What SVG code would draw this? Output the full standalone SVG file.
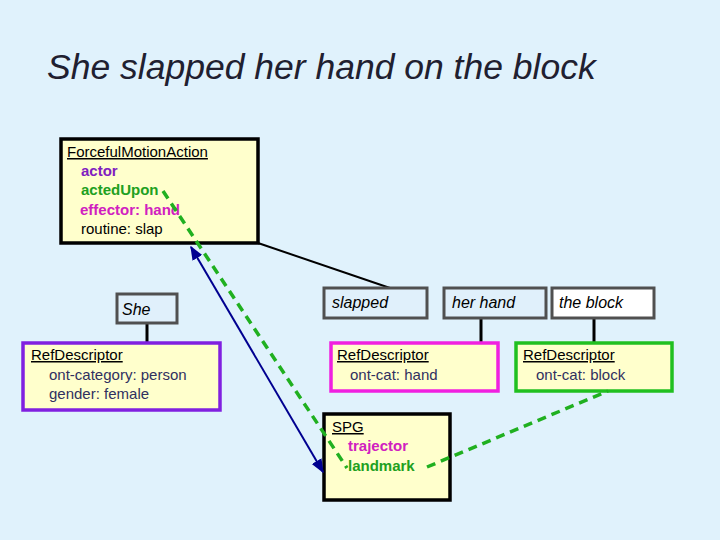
<svg xmlns="http://www.w3.org/2000/svg" width="720" height="540" viewBox="0 0 720 540">
<style>
text{font-family:"Liberation Sans",Arial,sans-serif;font-size:15px}
.yb{fill:#ffffcc;stroke-width:3.5}
.w{fill:#e0f0fb;stroke:#505050;stroke-width:3}
.it{font-style:italic;font-size:16px}
.h{text-decoration:underline;fill:#000}
.nv{fill:#303060}
.b{font-weight:bold}
</style>
<defs>
<marker id="a" viewBox="0 0 10 10" refX="9" refY="5" markerWidth="7" markerHeight="7" orient="auto-start-reverse"><path d="M0,1 L10,5 L0,9 z" fill="#000090"/></marker>
</defs>
<rect width="720" height="540" fill="#e0f2fc"/>
<text x="47" y="79" style="font-size:35.5px;font-style:italic" fill="#202030">She slapped her hand on the block</text>
<g id="connectors">
<line x1="258" y1="243" x2="390" y2="288" stroke="#000" stroke-width="2"/>
<line x1="147" y1="323" x2="147" y2="342" stroke="#000" stroke-width="3"/>
<line x1="481" y1="318" x2="481" y2="342" stroke="#000" stroke-width="3"/>
<line x1="594" y1="318" x2="594" y2="342" stroke="#000" stroke-width="3"/>
</g>
<g id="fma"><rect class="yb" x="61" y="139" width="197" height="104" stroke="#000"/>
<text x="67" y="157" class="h">ForcefulMotionAction</text>
<text x="81" y="176" fill="#8020c0" class="b">actor</text>
<text x="81" y="195" fill="#20a020" class="b">actedUpon</text>
<text x="80" y="215" fill="#d020c0" class="b">effector: hand</text>
<text x="81" y="234" fill="#000">routine: slap</text></g>
<g id="she"><rect class="w" x="117" y="294" width="60" height="29"/><text class="it" x="122" y="315">She</text></g>
<g id="slapped"><rect class="w" x="324" y="288" width="103" height="30"/><text class="it" x="332" y="308">slapped</text></g>
<g id="herhand"><rect class="w" x="444" y="288" width="102" height="30"/><text class="it" x="452" y="308">her hand</text></g>
<g id="theblock"><rect class="w" x="552" y="288" width="102" height="30" style="fill:#fff"/><text class="it" x="559" y="308">the block</text></g>
<g id="rd1"><rect class="yb" x="23" y="343" width="197" height="67" stroke="#8020e0"/>
<text x="31" y="360" class="h">RefDescriptor</text>
<text x="49" y="380" class="nv">ont-category: person</text>
<text x="49" y="399" class="nv">gender: female</text></g>
<g id="rd2"><rect class="yb" x="331" y="343" width="167" height="48" stroke="#f020e0"/>
<text x="337" y="360" class="h">RefDescriptor</text>
<text x="350" y="380" class="nv">ont-cat: hand</text></g>
<g id="rd3"><rect class="yb" x="516" y="343" width="156" height="48" stroke="#20c020"/>
<text x="523" y="360" class="h">RefDescriptor</text>
<text x="536" y="380" class="nv">ont-cat: block</text></g>
<g id="spg"><rect class="yb" x="324" y="414" width="126" height="86" stroke="#000"/>
<text x="332" y="432" class="h">SPG</text>
<text x="348" y="451" fill="#d020c0" class="b">trajector</text>
<text x="348" y="471" fill="#20a020" class="b">landmark</text></g>
<g id="links">
<line x1="191" y1="247" x2="323" y2="472" stroke="#000090" stroke-width="2" marker-start="url(#a)" marker-end="url(#a)"/>
<path d="M163,191 L347,468" stroke="#20b020" stroke-width="3.5" stroke-dasharray="9,6" fill="none"/>
<path d="M427,467 L608,391" stroke="#20b020" stroke-width="3.5" stroke-dasharray="9,6" fill="none"/>
</g>
</svg>
